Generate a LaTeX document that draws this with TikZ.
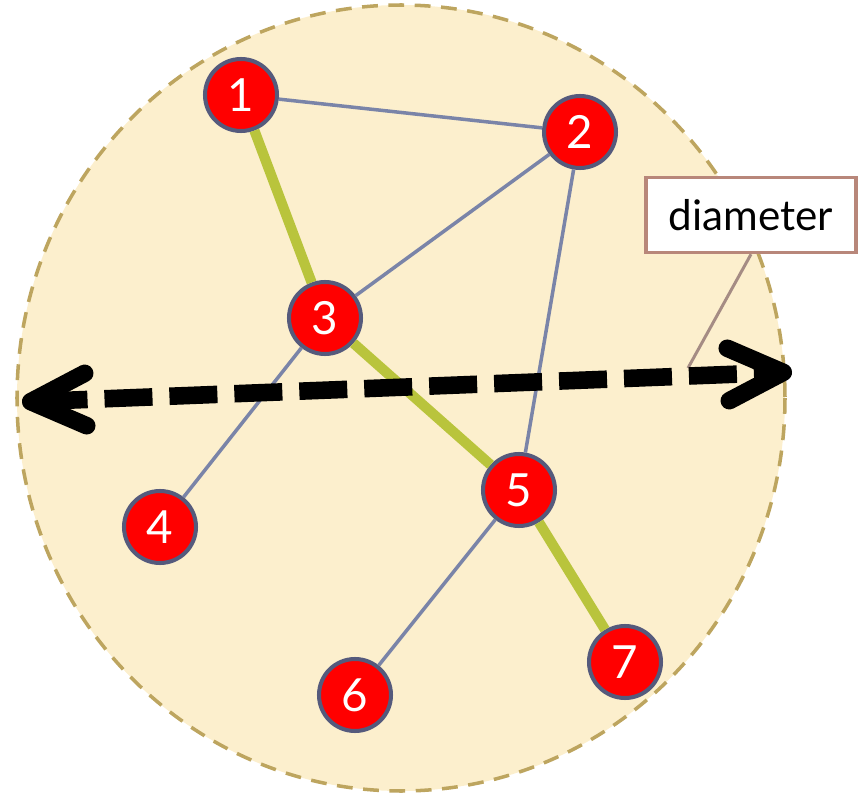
\documentclass[tikz,border=0pt]{standalone}
\usepackage{fontspec}
\setmainfont{Lato}
\usepackage{xcolor}
\usetikzlibrary{arrows.meta}

\definecolor{areafill}{HTML}{FCEFCD}
\definecolor{arealine}{HTML}{BDA55F}
\definecolor{vertexline}{HTML}{555A7C}
\definecolor{edgeblue}{HTML}{7A84A8}
\definecolor{pathgreen}{HTML}{B9C43C}
\definecolor{boxline}{HTML}{B8877A}
\definecolor{pointerline}{HTML}{A58C84}

\begin{document}
\begin{tikzpicture}[
x=0.02cm, y=-0.02cm,
vertex/.style={
    circle,
    draw=vertexline,
    line width=2.3pt,
    fill=red,
    minimum size=1.44cm,
    inner sep=0pt,
    text=white,
    font=\fontsize{26}{26}\selectfont
},
edge/.style={
    draw=edgeblue,
    line width=2pt
},
diampath/.style={
    draw=pathgreen,
    line width=5.8pt
},
label/.style={
    draw=boxline,
    line width=2pt,
    fill=white,
    minimum width=4.2cm,
    minimum height=1.5cm,
    font=\fontsize{24}{24}\selectfont
},
arrow/.style={
    {Straight Barb[length=1.1cm,width=1.05cm,line cap=round,line join=round]}-{Straight Barb[length=1.1cm,width=1.05cm,line cap=round,line join=round]},
    line width=10pt,
    dash pattern=on 0.96cm off 0.34cm
}
]
\useasboundingbox (0,0) rectangle (863,794);

% area
\draw[fill=areafill, draw=arealine, line width=2pt, dash pattern=on 9pt off 6pt]
    (401,398) ellipse [x radius=384, y radius=393];

\node[vertex] (v1) at (241,95) {1};
\node[vertex] (v2) at (580,132) {2};
\node[vertex] (v3) at (325,318) {3};
\node[vertex] (v4) at (160,527) {4};
\node[vertex] (v5) at (519,490) {5};
\node[vertex] (v6) at (355,695) {6};
\node[vertex] (v7) at (625,662) {7};

\draw[edge] (v1) -- (v2);
\draw[edge] (v2) -- (v3);
\draw[edge] (v2) -- (v5);
\draw[edge] (v3) -- (v4);
\draw[edge] (v5) -- (v6);

\draw[diampath] (v1) -- (v3);
\draw[diampath] (v3) -- (v5);
\draw[diampath] (v5) -- (v7);

% diameter
\node[label] (lbl) at (751,215) {diameter};
\coordinate (mark) at (688,368);
\draw[pointerline, line width=1.7pt] (lbl.south) -- (mark);

\coordinate (lend) at (22,402);
\coordinate (rend) at (792,372);
\draw[arrow] (lend) -- (rend);

\end{tikzpicture}
\end{document}
